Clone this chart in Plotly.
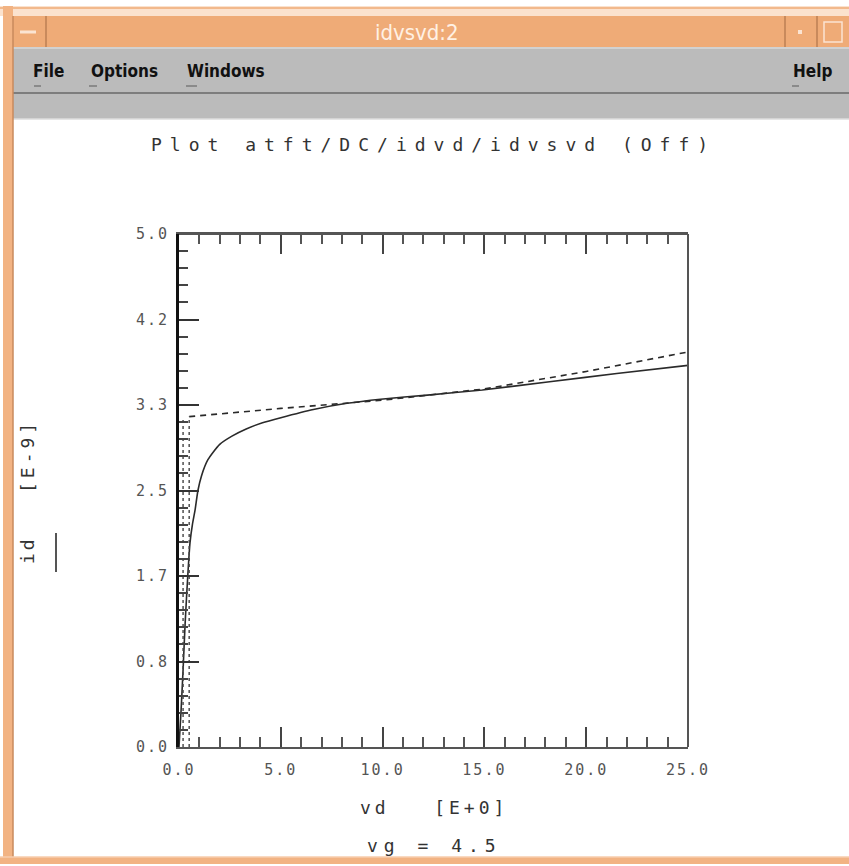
import plotly.graph_objects as go

# ---------------- data ----------------
vd_solid = [0, 0.1, 0.2, 0.3, 0.44, 0.54, 0.66, 0.79, 0.93, 1.1, 1.42, 2.0, 2.6,
            3.3, 4.1, 5.0, 6.6, 8.25, 9.9, 12.2, 14.9, 18.2, 21.5, 25.0]
id_solid = [0, 0.35, 0.75, 1.2, 1.70, 1.99, 2.17, 2.31, 2.50, 2.64, 2.80, 2.95, 3.03,
            3.10, 3.16, 3.21, 3.29, 3.35, 3.39, 3.43, 3.48, 3.56, 3.64, 3.72]

vd_fit = [0.5, 5.0, 10.0, 15.0, 20.0, 25.0]
id_fit = [3.22, 3.30, 3.38, 3.49, 3.66, 3.85]

vd_dot1 = [0.2, 0.2]
id_dot1 = [0.0, 3.20]
vd_dot2 = [0.5, 0.5]
id_dot2 = [0.0, 3.22]

x_ticks = [0, 5, 10, 15, 20, 25]
x_ticklabels = ["0.0", "5.0", "10.0", "15.0", "20.0", "25.0"]
y_ticks = [0, 5/6, 10/6, 15/6, 20/6, 25/6, 5.0]
y_ticklabels = ["0.0", "0.8", "1.7", "2.5", "3.3", "4.2", "5.0"]

title_text = "Plot atft/DC/idvd/idvsvd (Off)"
window_title = "idvsvd:2"
menu_items = ["File", "Options", "Windows", "Help"]
x_title = "vd   [E+0]"
y_title_a = "id"
y_title_b = "[E-9]"
subtitle = "vg = 4.5"

# ---------------- geometry ----------------
W, H = 849, 866
L, R, T, B = 179, 688, 234, 747
MONO = "DejaVu Sans Mono, Liberation Mono, monospace"
NARROW = "Liberation Sans Narrow, DejaVu Sans Condensed, Arial Narrow, Roboto, sans-serif"
ORANGE = "#EFAB77"
GRAY = "#BBBBBB"
INK = "#333333"


def fx(p):
    return (p - L) / (R - L)


def fy(p):
    return (B - p) / (B - T)


def spaced(s, px):
    return '<span style="letter-spacing:%dpx">%s</span>' % (px, s)


fig = go.Figure()
fig.add_trace(go.Scatter(x=vd_solid, y=id_solid, mode="lines",
                         line=dict(color="#2a2a2a", width=1.6, shape="spline", smoothing=0.6),
                         showlegend=False, hoverinfo="skip"))
fig.add_trace(go.Scatter(x=vd_fit, y=id_fit, mode="lines",
                         line=dict(color="#2a2a2a", width=1.6, dash="6px,5px"),
                         showlegend=False, hoverinfo="skip"))
fig.add_trace(go.Scatter(x=vd_dot1, y=id_dot1, mode="lines",
                         line=dict(color="#444", width=1.4, dash="dot"),
                         showlegend=False, hoverinfo="skip"))
fig.add_trace(go.Scatter(x=vd_dot2, y=id_dot2, mode="lines",
                         line=dict(color="#444", width=1.4, dash="dot"),
                         showlegend=False, hoverinfo="skip"))

shapes = []


def rect(x0, y0, x1, y1, fill, line=None, lw=0):
    shapes.append(dict(type="rect", xref="paper", yref="paper",
                       x0=fx(x0), x1=fx(x1), y0=fy(y0), y1=fy(y1),
                       fillcolor=fill, line=dict(color=line or fill, width=lw),
                       layer="above"))


def seg(x0, y0, x1, y1, color, w):
    shapes.append(dict(type="line", xref="paper", yref="paper",
                       x0=fx(x0), x1=fx(x1), y0=fy(y0), y1=fy(y1),
                       line=dict(color=color, width=w), layer="above"))


# window chrome
rect(0, 6, W, 16, "#FBE2CE")
seg(0, 8, W, 8, "#F2B98C", 2)
rect(12, 16, W, 47, ORANGE)
seg(46, 16, 46, 47, "#C98A5C", 2)
seg(785, 16, 785, 47, "#C98A5C", 2)
seg(817, 16, 817, 47, "#C98A5C", 2)
seg(20, 32, 36, 32, "#FBE4D2", 3)
rect(798, 30, 802, 34, "#FBE4D2")
rect(824, 22, 842, 42, ORANGE, "#FBE4D2", 1.5)
rect(12, 47, W, 93, GRAY)
seg(12, 48, W, 48, "#D8D8D8", 1.5)
seg(12, 93, W, 93, "#7d7d7d", 2)
rect(12, 94, W, 119, GRAY)
seg(12, 119, W, 119, "#dcdcdc", 1.5)
rect(3, 6, 13, 862, "#F2B383")
seg(13, 16, 13, 862, "#C98A5C", 1.5)
rect(0, 857, W, 864, "#F2B383")
seg(0, 857, W, 857, "#F7CDAD", 1.5)
# menu mnemonic underlines
for x0, x1 in [(34, 41), (89, 97), (186, 197), (792, 799)]:
    seg(x0, 86, x1, 86, "#8a8a8a", 2)

# plot frame (top/right thin, left axis drawn thick)
seg(L, T, R, T, "#555", 2)
seg(R, T, R, B, "#555", 2)
# y-title line-style sample
seg(56, 533, 56, 572, "#555", 2)

annotations = []


def text(x, y, s, size, color, family, angle=0, xanchor="center"):
    annotations.append(dict(xref="paper", yref="paper", x=fx(x), y=fy(y),
                            text=s, showarrow=False, textangle=angle,
                            xanchor=xanchor, yanchor="middle",
                            font=dict(size=size, color=color, family=family)))


text(417, 33, window_title, 22, "#FFF1E4", NARROW)
menu_x = [48, 124, 226, 812]
for s, x in zip(menu_items, menu_x):
    text(x, 71, "<b>%s</b>" % s, 17, "#111", NARROW)

text(433, 145, spaced(title_text, 8), 18, INK, MONO)
text(434, 807, spaced(x_title, 4), 18, INK, MONO)
text(434, 845, spaced(subtitle, 6), 18, INK, MONO)
text(27, 550, spaced(y_title_a, 3), 18, INK, MONO, angle=-90)
text(27, 456, spaced(y_title_b, 4), 18, INK, MONO, angle=-90)

fig.update_layout(
    width=W, height=H,
    margin=dict(l=L, r=W - R, t=T, b=H - B, pad=0),
    paper_bgcolor="white", plot_bgcolor="white",
    shapes=shapes, annotations=annotations,
    xaxis=dict(range=[0, 25], tickmode="array", tickvals=x_ticks,
               ticktext=[spaced(t, 2) for t in x_ticklabels],
               ticks="inside", ticklen=20, tickwidth=2, tickcolor="#444",
               minor=dict(dtick=1, tick0=0, ticks="inside", ticklen=10,
                          tickwidth=2, tickcolor="#555"),
               showline=True, linecolor="#555", linewidth=2, mirror="ticks",
               showgrid=False, zeroline=False, ticklabelstandoff=8,
               tickfont=dict(family=MONO, size=15, color="#555")),
    yaxis=dict(range=[0, 5], tickmode="array", tickvals=y_ticks,
               ticktext=[spaced(t, 2) for t in y_ticklabels],
               ticks="inside", ticklen=20, tickwidth=2, tickcolor="#333",
               minor=dict(dtick=5/30, tick0=0, ticks="inside", ticklen=9,
                          tickwidth=2, tickcolor="#444"),
               showline=True, linecolor="#111", linewidth=3, mirror=False,
               showgrid=False, zeroline=False, ticklabelstandoff=4,
               tickfont=dict(family=MONO, size=15, color="#555")),
)

fig.write_html("out.html")
